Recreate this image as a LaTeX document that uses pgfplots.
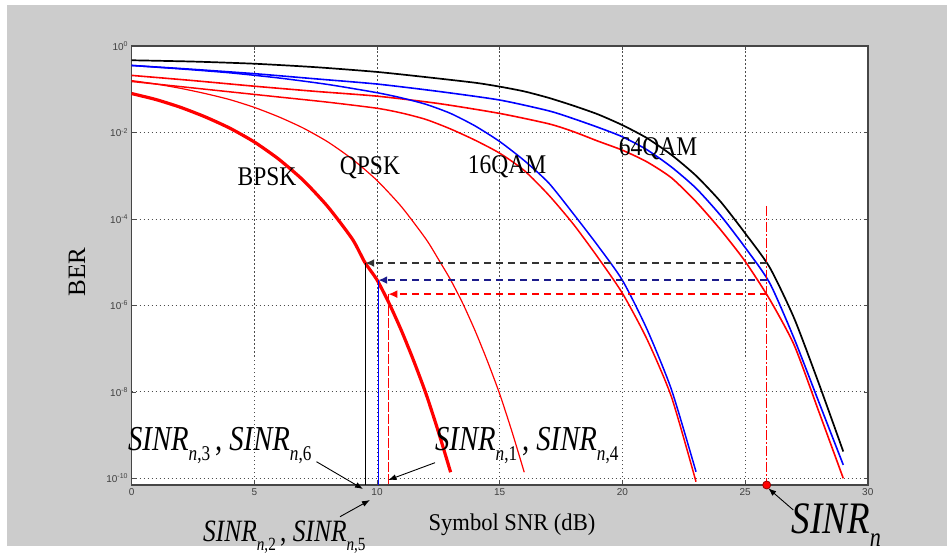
\documentclass[border=0pt]{standalone}
\usepackage{pgfplots}
\usepackage{pgfplotstable}
\pgfplotsset{compat=1.18}
\usepackage{graphicx}
\usetikzlibrary{arrows.meta}
\usepackage{fontspec}
\setmainfont{Liberation Serif}
\newfontfamily\tickfont{Liberation Sans}
\definecolor{bggray}{HTML}{CCCCCC}
\definecolor{navyb}{HTML}{1C1C8C}
\definecolor{dkgray}{HTML}{333333}
\definecolor{dkred}{HTML}{990000}
\newcommand{\sub}[1]{\raisebox{-0.29em}{\scalebox{0.6}{#1}}}

% columns: x (dB), lg = log10(BER)
\pgfplotstableread{
x lg
0 -1.10
1 -1.24
2 -1.42
3 -1.64
4 -1.90
5 -2.22
6 -2.62
7 -3.11
8 -3.72
9 -4.47
9.5 -5.00
10 -5.41
10.5 -5.96
11 -6.59
11.5 -7.29
12 -8.05
12.5 -8.92
13 -9.86
}\bpsk
\pgfplotstableread{
x lg
0 -0.80
1 -0.88
2 -0.98
3 -1.10
4 -1.24
5 -1.42
6 -1.64
7 -1.90
8 -2.22
9 -2.62
10 -3.11
11 -3.72
12 -4.47
12.5 -4.93
13 -5.41
13.5 -5.96
14 -6.59
14.5 -7.29
15 -8.05
15.5 -8.92
16 -9.86
}\qpsk
\pgfplotstableread{
x lg
0 -0.82
2 -0.94
4 -1.06
6 -1.18
8 -1.30
10 -1.44
11 -1.55
12 -1.70
13 -1.92
14 -2.18
15 -2.48
16 -2.88
17 -3.45
18 -4.12
19 -4.89
20 -5.72
21 -6.78
22 -8.12
23 -10.08
}\qamAred
\pgfplotstableread{
x lg
0 -0.45
2 -0.53
4 -0.62
6 -0.74
8 -0.89
10 -1.08
11 -1.20
12 -1.35
13 -1.56
14 -1.85
15 -2.21
16 -2.65
17 -3.17
18 -3.88
19 -4.62
20 -5.42
21 -6.55
22 -7.95
23 -9.85
}\qamAblue
\pgfplotstableread{
x lg
0 -0.33
2.5 -0.36
5 -0.41
7.5 -0.49
10 -0.60
12 -0.72
14 -0.85
15 -0.94
16 -1.05
17 -1.20
18 -1.38
19 -1.58
20 -1.83
21 -2.13
22 -2.52
23 -3.00
24 -3.60
25 -4.33
26 -5.12
27 -6.30
28 -7.80
29 -9.38
}\qamBblack
\pgfplotstableread{
x lg
0 -0.45
2.5 -0.54
5 -0.64
7.5 -0.76
10 -0.88
12.5 -1.05
15 -1.25
17 -1.50
18 -1.68
19 -1.88
20 -2.10
21 -2.40
22 -2.80
23 -3.29
24 -3.92
25 -4.66
26 -5.48
27 -6.77
28 -8.23
29 -9.69
}\qamBblue
\pgfplotstableread{
x lg
0 -0.68
2.5 -0.80
5 -0.93
7.5 -1.05
10 -1.16
12.5 -1.33
15 -1.56
17 -1.80
18 -1.98
19 -2.20
20 -2.41
21 -2.68
22 -3.05
23 -3.60
24 -4.25
25 -4.98
26 -5.86
27 -6.92
28 -8.45
29 -10.00
}\qamBred

\begin{document}
\begin{tikzpicture}
\path[use as bounding box] (-131.6pt,-69pt) rectangle (815.4pt,485pt);
\fill[white] (-131.6pt,-69pt) rectangle (815.4pt,485pt);
\fill[bggray] (-124.6pt,-61pt) rectangle (815.4pt,480pt);
\begin{scope}
\clip (-131.6pt,-69pt) rectangle (815.4pt,485pt);
\begin{axis}[
  scale only axis, width=736.2pt, height=439pt,
  xmin=0, xmax=30, ymin=-10.155, ymax=0,
  xtick={0,5,10,15,20,25,30},
  xticklabels={0,5,10,15,20,25,30},
  ytick={-10,-8,-6,-4,-2,0},
  yticklabels={10\textsuperscript{-10},10\textsuperscript{-8},10\textsuperscript{-6},10\textsuperscript{-4},10\textsuperscript{-2},10\textsuperscript{0}},
  tick align=inside, tick pos=both, major tick length=4pt,
  tick style={gray!60!black, line width=0.6pt},
  grid=major,
  major grid style={gray!60!black, line width=0.7pt, dash pattern=on 1.5pt off 2.5pt},
  axis line style={gray!55!black, line width=1.5pt},
  axis background/.style={fill=white},
  ticklabel style={font=\tickfont\fontsize{10}{12}\selectfont, text=black!75},
  clip=false,
]
\addplot[red, line width=1.6pt, smooth, tension=0.4] table[x=x,y=lg] {\qamBred};
\addplot[blue, line width=1.6pt, smooth, tension=0.4] table[x=x,y=lg] {\qamBblue};
\addplot[black, line width=1.7pt, smooth, tension=0.4] table[x=x,y=lg] {\qamBblack};
\addplot[red, line width=1.5pt, smooth, tension=0.4] table[x=x,y=lg] {\qamAred};
\addplot[blue, line width=1.5pt, smooth, tension=0.4] table[x=x,y=lg] {\qamAblue};
\addplot[red, line width=1.2pt, smooth, tension=0.4] table[x=x,y=lg] {\qpsk};
\addplot[red, line width=3.2pt, smooth, tension=0.4] table[x=x,y=lg] {\bpsk};

% SINR construction lines
\addplot[red, line width=1pt, dash pattern=on 10pt off 2pt on 2pt off 2pt] coordinates {(25.88,-3.70) (25.88,-10.155)};
\addplot[dkgray, line width=2pt, dash pattern=on 7pt off 5pt, -{Latex[length=9pt,width=8pt]}] coordinates {(25.88,-5.02) (9.52,-5.02)};
\addplot[navyb, line width=2pt, dash pattern=on 7pt off 5pt, -{Latex[length=9pt,width=8pt]}] coordinates {(25.88,-5.415) (10.05,-5.415)};
\addplot[red, line width=2pt, dash pattern=on 7pt off 5pt, -{Latex[length=9pt,width=8pt]}] coordinates {(25.88,-5.74) (10.46,-5.74)};
\addplot[black, line width=1pt] coordinates {(9.52,-5.02) (9.52,-10.155)};
\addplot[blue, line width=1.2pt] coordinates {(10.05,-5.415) (10.05,-10.155)};
\addplot[red, line width=1pt, dash pattern=on 10pt off 2pt] coordinates {(10.46,-5.74) (10.46,-10.155)};
\addplot[only marks, mark=*, mark size=4pt, red, mark options={draw=dkred, line width=0.8pt}] coordinates {(25.88,-10.155)};

% curve labels
\node at (rel axis cs:0.184,0.7016) {\scalebox{0.87}[1]{\fontsize{27}{27}\selectfont BPSK}};
\node at (rel axis cs:0.3238,0.7221) {\scalebox{0.87}[1]{\fontsize{27}{27}\selectfont QPSK}};
\node at (rel axis cs:0.5099,0.7244) {\scalebox{0.87}[1]{\fontsize{27}{27}\selectfont 16QAM}};
\node at (rel axis cs:0.7151,0.7654) {\scalebox{0.87}[1]{\fontsize{27}{27}\selectfont 64QAM}};

% SINR annotations
\node[anchor=base west, inner sep=0pt] at (rel axis cs:-0.005,0.0797) {\scalebox{0.82}[1]{\fontsize{35}{35}\selectfont\textit{SINR}\sub{\textit{n},3}\,, \textit{SINR}\sub{\textit{n},6}}};
\node[anchor=base west, inner sep=0pt] at (rel axis cs:0.412,0.0786) {\scalebox{0.82}[1]{\fontsize{35}{35}\selectfont\textit{SINR}\sub{\textit{n},1}\,, \textit{SINR}\sub{\textit{n},4}}};
\node[anchor=base west, inner sep=0pt] at (rel axis cs:0.097,-0.1276) {\scalebox{0.82}[1]{\fontsize{31}{31}\selectfont\textit{SINR}\sub{\textit{n},2}\,, \textit{SINR}\sub{\textit{n},5}}};
\node[anchor=base west, inner sep=0pt] at (rel axis cs:0.8966,-0.110) {\scalebox{0.82}[1]{\fontsize{45}{45}\selectfont\textit{SINR}\sub{\textit{n}}}};

\draw[black, line width=0.9pt, -{Latex[length=8pt,width=6pt]}] (rel axis cs:0.2511,0.0531) -- (rel axis cs:0.3143,-0.0091);
\draw[black, line width=0.9pt, -{Latex[length=8pt,width=6pt]}] (rel axis cs:0.4121,0.0508) -- (rel axis cs:0.3487,0.0114);
\draw[black, line width=0.9pt, -{Latex[length=8pt,width=6pt]}] (rel axis cs:0.2831,-0.0722) -- (rel axis cs:0.3238,-0.0342);
\draw[black, line width=0.9pt, -{Latex[length=8pt,width=6pt]}] (rel axis cs:0.8988,-0.0569) -- (rel axis cs:0.8648,-0.0075);

% axis titles
\node[rotate=90] at (rel axis cs:-0.0742,0.485) {\fontsize{25}{25}\selectfont BER};
\node at (rel axis cs:0.5167,-0.0911) {\scalebox{0.94}[1]{\fontsize{24}{24}\selectfont Symbol SNR (dB)}};
\end{axis}
\end{scope}
\end{tikzpicture}
\end{document}
